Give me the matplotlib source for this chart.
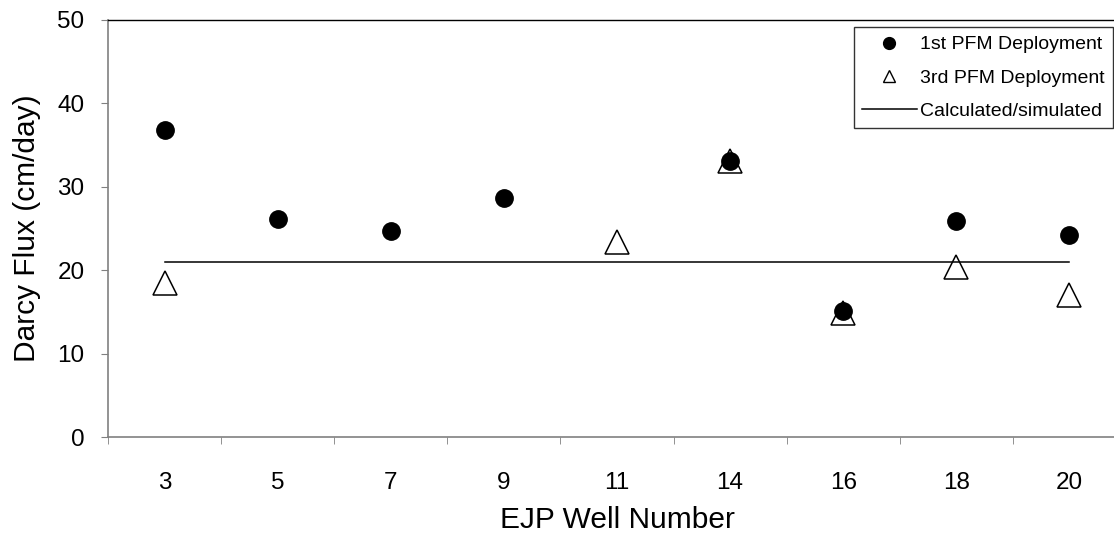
import matplotlib
matplotlib.use("Agg")
import matplotlib.pyplot as plt
import numpy as np

wells = ["3", "5", "7", "9", "11", "14", "16", "18", "20"]
first_pfm = [36.8, 26.1, 24.7, 28.7, np.nan, 33.1, 15.1, 25.9, 24.2]
third_pfm = [18.5, np.nan, np.nan, np.nan, 23.4, 33.1, 14.9, 20.4, 17.0]
calculated = 21.0

plt.rcParams['font.family'] = ['Liberation Sans', 'DejaVu Sans']

fig = plt.figure(figsize=(11.14, 5.37), dpi=100)
ax = fig.add_axes([108/1114, 1-437/537, (1126-108)/1114, (437-20)/537])

x = np.arange(len(wells))
ax.plot(x, first_pfm, linestyle='none', marker='o', markersize=12.5,
        color='black', label='1st PFM Deployment', zorder=3)
ax.plot(x, third_pfm, linestyle='none', marker='^', markersize=17,
        markerfacecolor='none', markeredgecolor='black', markeredgewidth=1.1,
        label='3rd PFM Deployment', zorder=4)
ax.plot([x[0], x[-1]], [calculated, calculated], color='black', linewidth=1.1,
        label='Calculated/simulated', zorder=2)

ax.set_xlim(-0.5, len(wells) - 0.5)
ax.set_ylim(0, 50)
ax.set_yticks([0, 10, 20, 30, 40, 50])
ax.set_xticks(x)
ax.set_xticklabels(wells)
ax.set_xticks(np.arange(-0.5, len(wells), 1.0), minor=True)
ax.tick_params(axis='x', which='major', length=0, pad=25, labelsize=17.5)
ax.tick_params(axis='x', which='minor', length=5, color='#808080', direction='out')
ax.tick_params(axis='y', length=5, color='#808080', direction='out', pad=12, labelsize=17.5)

for s in ['left', 'bottom']:
    ax.spines[s].set_color('#808080')
    ax.spines[s].set_linewidth(1.2)
for s in ['top', 'right']:
    ax.spines[s].set_color('black')
    ax.spines[s].set_linewidth(1.0)

ax.set_ylabel('Darcy Flux (cm/day)', fontsize=21.5, labelpad=12)
ax.set_xlabel('EJP Well Number', fontsize=21.5, labelpad=9)

leg = ax.legend(loc='upper right', bbox_to_anchor=(1113/1114, 1-27/537),
                bbox_transform=fig.transFigure, borderaxespad=0,
                fontsize=14, frameon=True, fancybox=False, edgecolor='black',
                handlelength=2.8, handletextpad=0.15,
                labelspacing=0.8, borderpad=0.45)
leg.get_frame().set_linewidth(1.0)
hs = leg.legend_handles
hs[0].set_markersize(8.5)
hs[1].set_markersize(8)
hs[1].set_markeredgewidth(1.0)

fig.savefig('out.png', dpi=100)
